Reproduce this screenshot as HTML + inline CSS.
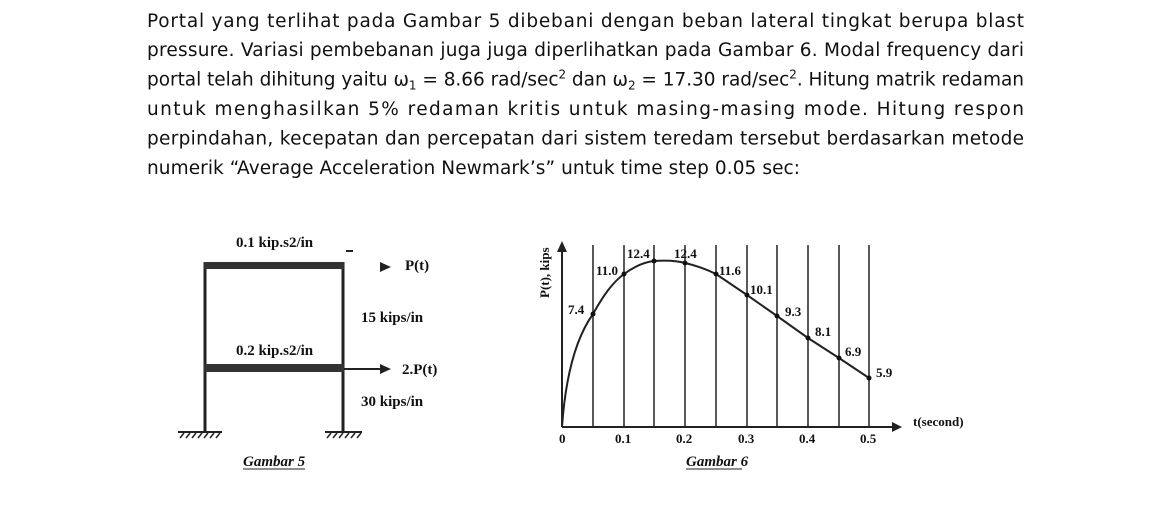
<!DOCTYPE html>
<html><head><meta charset="utf-8"><style>
html,body{margin:0;padding:0;background:#fff;}
svg{display:block;}
.p{font-family:"DejaVu Sans","Liberation Sans",sans-serif;font-size:18.5px;fill:#111;}
.s{font-family:"Liberation Serif",serif;font-weight:bold;font-size:15px;fill:#111;}
.t{font-family:"Liberation Serif",serif;font-weight:bold;font-size:13px;fill:#111;}
</style></head><body>
<svg width="1170" height="506" viewBox="0 0 1170 506" xmlns="http://www.w3.org/2000/svg">
<rect width="1170" height="506" fill="#fff"/>
<text class="p" x="147" y="27" textLength="877" lengthAdjust="spacing">Portal yang terlihat pada Gambar 5 dibebani dengan beban lateral tingkat berupa blast</text>
<text class="p" x="147" y="56" textLength="877" lengthAdjust="spacing">pressure. Variasi pembebanan juga juga diperlihatkan pada Gambar 6. Modal frequency dari</text>
<text class="p" x="147" y="85.5" textLength="877" lengthAdjust="spacing">portal telah dihitung yaitu ω<tspan font-size="12" dy="4">1</tspan><tspan dy="-4"> = 8.66 rad/sec</tspan><tspan font-size="12" dy="-7">2</tspan><tspan dy="7"> dan ω</tspan><tspan font-size="12" dy="4">2</tspan><tspan dy="-4"> = 17.30 rad/sec</tspan><tspan font-size="12" dy="-7">2</tspan><tspan dy="7">. Hitung matrik redaman</tspan></text>
<text class="p" x="147" y="115" textLength="877" lengthAdjust="spacing">untuk menghasilkan 5% redaman kritis untuk masing-masing mode. Hitung respon</text>
<text class="p" x="147" y="144.5" textLength="877" lengthAdjust="spacing">perpindahan, kecepatan dan percepatan dari sistem teredam tersebut berdasarkan metode</text>
<text class="p" x="147" y="174" textLength="653" lengthAdjust="spacing">numerik “Average Acceleration Newmark’s” untuk time step 0.05 sec:</text>

<!-- Gambar 5 -->
<g stroke="#222" fill="none">
<line x1="205" y1="262" x2="205" y2="432" stroke-width="3"/>
<line x1="343" y1="262" x2="343" y2="432" stroke-width="3"/>
<rect x="204" y="262" width="140" height="7" fill="#333" stroke="none"/>
<rect x="204" y="364" width="140" height="8" fill="#333" stroke="none"/>
<line x1="344" y1="369" x2="380" y2="369" stroke-width="2"/>
<line x1="178" y1="432" x2="222" y2="432" stroke-width="2"/>
<line x1="325" y1="432" x2="362" y2="432" stroke-width="2"/>
<path d="M180 438l4-5M186 438l4-5M192 438l4-5M198 438l4-5M204 438l4-5M210 438l4-5M216 438l4-5M327 438l4-5M333 438l4-5M339 438l4-5M345 438l4-5M351 438l4-5M357 438l4-5" stroke-width="1.5"/>
<line x1="346" y1="251" x2="353" y2="251" stroke-width="2"/>
</g>
<polygon points="380,364 391,369 380,374" fill="#222"/>
<polygon points="380,262 391,267 380,272" fill="#222"/>
<text class="s" x="236" y="247">0.1 kip.s2/in</text>
<text class="s" x="405" y="270">P(t)</text>
<text class="s" x="361" y="322">15 kips/in</text>
<text class="s" x="236" y="355">0.2 kip.s2/in</text>
<text class="s" x="402" y="374">2.P(t)</text>
<text class="s" x="361" y="406">30 kips/in</text>
<text class="s" x="243" y="466" font-style="italic" font-size="14">Gambar 5</text>
<line x1="243" y1="469" x2="305" y2="469" stroke="#222" stroke-width="1"/>

<!-- Gambar 6 -->
<g stroke="#222" fill="none" stroke-width="1.5">
<line x1="562" y1="427" x2="562" y2="250" stroke-width="2"/>
<line x1="562" y1="427" x2="893" y2="427" stroke-width="2"/>
<line x1="593" y1="245" x2="593" y2="427"/>
<line x1="624" y1="245" x2="624" y2="427"/>
<line x1="654" y1="245" x2="654" y2="427"/>
<line x1="685" y1="245" x2="685" y2="427"/>
<line x1="716" y1="245" x2="716" y2="427"/>
<line x1="747" y1="245" x2="747" y2="427"/>
<line x1="777" y1="245" x2="777" y2="427"/>
<line x1="808" y1="245" x2="808" y2="427"/>
<line x1="839" y1="245" x2="839" y2="427"/>
<line x1="869" y1="245" x2="869" y2="427"/>
<path d="M562 427 C566 370 578 335 593 314 C603 296 612 283 624 274 C635 266 645 262 654 261 C668 260 678 261 685 263 C698 266 708 270 716 274 L747 295 L777 316 L808 338 L839 358 L869 378" stroke-width="2"/>
</g>
<polygon points="557,252 562,241 567,252" fill="#222"/>
<polygon points="892,422 902,427 892,432" fill="#222"/>
<g fill="#111">
<circle cx="593" cy="314" r="2.5"/><circle cx="624" cy="274" r="2.5"/><circle cx="654" cy="261" r="2.5"/><circle cx="685" cy="263" r="2.5"/><circle cx="716" cy="274" r="2.5"/><circle cx="747" cy="295" r="2.5"/><circle cx="777" cy="316" r="2.5"/><circle cx="808" cy="338" r="2.5"/><circle cx="839" cy="358" r="2.5"/><circle cx="869" cy="378" r="2.5"/>
</g>
<text class="t" x="568" y="314">7.4</text>
<text class="t" x="596" y="275">11.0</text>
<text class="t" x="627" y="258">12.4</text>
<text class="t" x="674" y="258">12.4</text>
<text class="t" x="719" y="275">11.6</text>
<text class="t" x="750" y="294">10.1</text>
<text class="t" x="785" y="316">9.3</text>
<text class="t" x="815" y="336">8.1</text>
<text class="t" x="845" y="356">6.9</text>
<text class="t" x="876" y="377">5.9</text>
<text class="t" x="559" y="443">0</text>
<text class="t" x="615" y="443">0.1</text>
<text class="t" x="676" y="443">0.2</text>
<text class="t" x="738" y="443">0.3</text>
<text class="t" x="799" y="443">0.4</text>
<text class="t" x="860" y="443">0.5</text>
<text class="t" x="913" y="426" font-size="14">t(second)</text>
<text class="t" x="0" y="0" font-size="14" transform="translate(549,298) rotate(-90)">P(t), kips</text>
<text class="s" x="686" y="466" font-style="italic" font-size="14">Gambar 6</text>
<line x1="686" y1="469" x2="742" y2="469" stroke="#222" stroke-width="1"/>
</svg>
</body></html>
